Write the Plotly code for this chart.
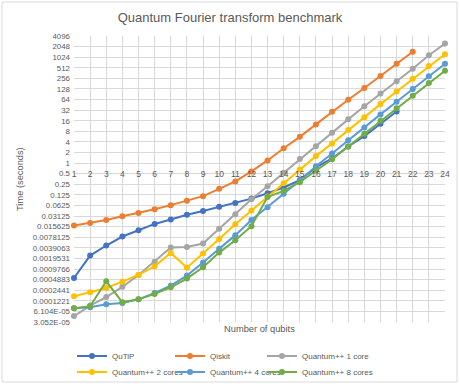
import plotly.graph_objects as go

qubits = list(range(1, 25))

qutip = [0.000545, 0.00236, 0.00455, 0.0082, 0.01234, 0.0187, 0.02486, 0.034, 0.0436, 0.0571,
         0.0738, 0.098, 0.1397, 0.203, 0.33, 0.758, 1.357, 2.97, 5.86, 13.1, 29.4]
qiskit = [0.0169, 0.0199, 0.0243, 0.031, 0.0385, 0.049, 0.0639, 0.0854, 0.115, 0.186, 0.301,
          0.582, 1.19, 2.64, 5.58, 12.6, 28.8, 63.1, 136, 298, 666, 1468]
qpp_1 = [4.5e-05, 8.93e-05, 0.0001566, 0.000305, 0.000663, 0.001575, 0.00399, 0.00413, 0.00516,
         0.0136, 0.0354, 0.094, 0.2207, 0.536, 1.30, 3.03, 7.26, 17.5, 41.1, 95.7, 211, 481, 1160, 2504]
qpp_2 = [0.0001644, 0.0002125, 0.000282, 0.000428, 0.000663, 0.001169, 0.0028, 0.001068, 0.002686,
         0.00699, 0.01833, 0.0451, 0.1127, 0.268, 0.66, 1.58, 3.63, 8.69, 20.25, 47.5, 109, 249, 572, 1243]
qpp_4 = [7.46e-05, 8.06e-05, 9.71e-05, 0.0001063, 0.0001345, 0.000204, 0.000329, 0.000635, 0.00149,
         0.003695, 0.00898, 0.0242, 0.0559, 0.134, 0.319, 0.812, 1.88, 4.5, 10.34, 24.25, 55.3, 127, 292, 666]
qpp_8 = [7.46e-05, 8.6e-05, 0.000437, 0.0001108, 0.0001345, 0.0001915, 0.000296, 0.000523, 0.001099,
         0.00286, 0.00643, 0.01617, 0.1088, 0.1627, 0.287, 0.616, 1.29, 2.97, 6.82, 16.0, 36.0, 82.1, 188.7, 421.7]

series = [
    ("QuTiP", qutip, "#4472C4"),
    ("Qiskit", qiskit, "#ED7D31"),
    ("Quantum++ 1 core", qpp_1, "#A5A5A5"),
    ("Quantum++ 2 cores", qpp_2, "#FFC000"),
    ("Quantum++ 4 cores", qpp_4, "#5B9BD5"),
    ("Quantum++ 8 cores", qpp_8, "#70AD47"),
]

y_exps = list(range(-15, 13))
y_ticks = [2.0 ** e for e in y_exps]
y_labels = ["3.052E-05", "6.104E-05", "0.0001221", "0.0002441", "0.0004883", "0.0009766",
            "0.0019531", "0.0039063", "0.0078125", "0.015625", "0.03125", "0.0625", "0.125",
            "0.25", "0.5", "1", "2", "4", "8", "16", "32", "64", "128", "256", "512",
            "1024", "2048", "4096"]

FONT = "Liberation Sans"
GREY_TXT = "#595959"
GRID = "#d9d9d9"

# plot area in pixels
W, H = 460, 384
L, R, T, B = 74, 15, 36, 62
plot_h = H - T - B
plot_w = W - L - R


def px_x(p):
    return (p - L) / plot_w


def px_y(p):
    return (T + plot_h - p) / plot_h


# one small legend per entry, laid out as 3 columns x 2 rows like the Excel legend
leg_cols = [72, 170, 262]
leg_rows = [341.5, 357.5]

fig = go.Figure()
legends = {}
for i, (name, vals, color) in enumerate(series):
    key = "legend" if i == 0 else f"legend{i + 1}"
    fig.add_trace(go.Scatter(
        x=qubits[:len(vals)], y=vals, name=name, mode="lines+markers",
        line=dict(color=color, width=2),
        marker=dict(color=color, size=6),
        cliponaxis=False, legend=key,
    ))
    legends[key] = dict(orientation="v", xanchor="left", yanchor="top",
                        x=px_x(leg_cols[i % 3]), y=px_y(leg_rows[i // 3]),
                        itemwidth=30, font=dict(family=FONT, size=8, color=GREY_TXT),
                        bgcolor="rgba(0,0,0,0)")

# x axis crosses the value axis at 0.5 (2^-1)
cross = (-1 - y_exps[0]) / (y_exps[-1] - y_exps[0])
x_pos = cross + 6 / plot_h

fig.update_layout(
    width=W, height=H,
    margin=dict(l=L, r=R, t=T, b=B, autoexpand=False),
    paper_bgcolor="white", plot_bgcolor="white",
    font=dict(family=FONT, size=8, color=GREY_TXT),
    title=dict(text="Quantum Fourier transform benchmark", x=0.5, xanchor="center",
               y=1 - 17 / H, yanchor="middle",
               font=dict(family=FONT, size=13, color=GREY_TXT)),
    xaxis=dict(range=[1, 24], tickvals=qubits, ticktext=[str(q) for q in qubits],
               showgrid=True, gridcolor=GRID, gridwidth=1, zeroline=False,
               showline=False, ticks="", anchor="free", position=x_pos,
               tickfont=dict(size=8.5, color=GREY_TXT)),
    yaxis=dict(type="log", range=[y_exps[0] * 0.30103, y_exps[-1] * 0.30103],
               tickvals=y_ticks, ticktext=y_labels, showgrid=True, gridcolor=GRID,
               gridwidth=1, zeroline=False, showline=False, ticks="",
               ticklabelstandoff=3, tickfont=dict(size=7.9, color=GREY_TXT)),
    showlegend=True,
    **legends,
)

fig.add_annotation(text="Number of qubits", xref="paper", yref="paper", x=0.5, y=px_y(329),
                   xanchor="center", yanchor="middle", showarrow=False,
                   font=dict(family=FONT, size=9.3, color=GREY_TXT))
fig.add_annotation(text="Time (seconds)", xref="paper", yref="paper", x=px_x(20), y=0.5,
                   xanchor="center", yanchor="middle", showarrow=False, textangle=-90,
                   font=dict(family=FONT, size=9.3, color=GREY_TXT))

fig.add_shape(type="rect", xref="paper", yref="paper",
              x0=px_x(2), x1=px_x(W - 3), y0=px_y(H - 2), y1=px_y(2),
              line=dict(color=GRID, width=1), layer="below")

# the page's default body margin would push the figure 8px off the window
fig.write_html("out.html", config={"displayModeBar": False},
               post_script="document.body.style.margin = '0px';")
